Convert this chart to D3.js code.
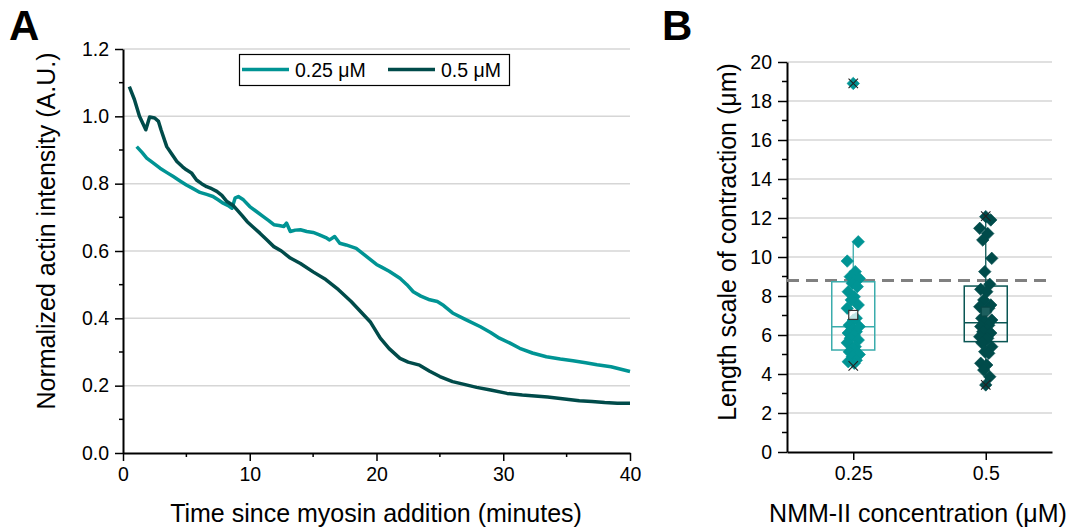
<!DOCTYPE html>
<html>
<head>
<meta charset="utf-8">
<script src="https://cdn.jsdelivr.net/npm/d3@7"></script>
<style>
  html, body { margin: 0; padding: 0; background: #fff; }
  svg { display: block; font-family: "Liberation Sans", Arial, sans-serif; }
</style>
</head>
<body>
<svg id="fig" width="1068" height="530"></svg>
<script>
// ---- Panel A: actin intensity time courses ----
const timeLow = [1.08, 1.5, 1.87, 2.4, 2.92, 3.5, 3.97, 4.5, 5.0, 5.5, 6.07, 6.6, 7.1, 7.5, 7.9, 8.3, 8.6, 8.84, 9.1, 9.5, 10.0, 10.5, 11.07, 11.5, 11.9, 12.3, 12.7, 12.9, 13.2, 13.6, 14.0, 14.5, 15.0, 15.5, 16.0, 16.3, 16.7, 17.1, 17.6, 18.4, 19.0, 19.5, 20.0, 20.4, 21.0, 21.85, 22.4, 22.9, 23.5, 24.2, 24.8, 25.3, 26.0, 27.0, 28.2, 29.0, 29.7, 30.5, 31.3, 32.3, 33.4, 34.5, 35.5, 36.5, 37.4, 38.5, 40.0];
const intensityLow = [0.910, 0.893, 0.876, 0.861, 0.846, 0.832, 0.821, 0.808, 0.796, 0.786, 0.774, 0.768, 0.762, 0.752, 0.742, 0.735, 0.727, 0.757, 0.762, 0.752, 0.732, 0.718, 0.702, 0.690, 0.678, 0.676, 0.673, 0.683, 0.658, 0.662, 0.663, 0.658, 0.655, 0.648, 0.640, 0.633, 0.643, 0.623, 0.618, 0.608, 0.590, 0.575, 0.560, 0.552, 0.540, 0.519, 0.500, 0.479, 0.466, 0.455, 0.450, 0.438, 0.416, 0.397, 0.375, 0.358, 0.341, 0.327, 0.311, 0.297, 0.286, 0.279, 0.274, 0.268, 0.262, 0.256, 0.242];

const timeHigh = [0.5, 0.9, 1.3, 1.8, 2.1, 2.5, 2.8, 3.0, 3.45, 3.9, 4.25, 4.7, 5.0, 5.4, 5.8, 6.2, 6.6, 7.0, 7.4, 7.8, 8.2, 8.7, 9.0, 9.4, 9.8, 10.3, 10.8, 11.3, 11.9, 12.5, 13.2, 14.0, 15.0, 16.0, 17.0, 18.0, 18.5, 19.0, 19.5, 20.3, 21.0, 21.85, 22.5, 23.4, 24.2, 25.0, 26.0, 27.0, 27.9, 29.0, 30.3, 31.5, 32.5, 33.5, 34.5, 36.0, 37.0, 38.0, 39.0, 40.0];
const intensityHigh = [1.088, 1.050, 1.000, 0.960, 0.998, 0.995, 0.985, 0.960, 0.910, 0.885, 0.866, 0.850, 0.841, 0.832, 0.811, 0.800, 0.791, 0.785, 0.777, 0.765, 0.747, 0.735, 0.722, 0.705, 0.687, 0.670, 0.653, 0.635, 0.613, 0.600, 0.579, 0.563, 0.538, 0.515, 0.485, 0.450, 0.430, 0.410, 0.390, 0.341, 0.310, 0.281, 0.270, 0.261, 0.243, 0.227, 0.212, 0.203, 0.195, 0.187, 0.177, 0.172, 0.169, 0.166, 0.162, 0.155, 0.153, 0.150, 0.148, 0.148];

const seriesLabels = ["0.25 \u03BCM", "0.5 \u03BCM"];
const timeTicks = [0, 10, 20, 30, 40];
const intensityTicks = [0, 0.2, 0.4, 0.6, 0.8, 1.0, 1.2];

// ---- Panel B: contraction length scales ----
const concentrations = ["0.25", "0.5"];
const lengthsLow = [18.9, 10.78, 9.79, 9.25, 8.99, 8.9, 8.65, 8.48, 8.22, 7.96, 7.8, 7.54, 7.37, 6.86, 6.77, 6.5, 6.43, 6.3, 6.17, 6.1, 6.0, 5.83, 5.74, 5.6, 5.4, 5.3, 5.14, 5.0, 4.89, 4.7, 4.63, 4.55];
const lengthsHigh = [12.07, 11.9, 11.47, 11.2, 10.87, 9.93, 9.25, 8.6, 8.34, 8.22, 7.8, 7.54, 7.45, 7.37, 7.19, 6.86, 6.77, 6.68, 6.5, 6.43, 6.26, 6.17, 6.1, 5.91, 5.83, 5.74, 5.6, 5.4, 5.14, 5.06, 4.55, 4.46, 4.2, 3.86, 3.44];
const boxQ1 = [5.23, 5.66];
const boxMedian = [6.42, 6.63];
const boxQ3 = [8.73, 8.51];
const whiskerLow = [4.55, 3.44];
const whiskerHigh = [10.78, 12.07];
const groupMean = [7.03, 7.2];
const groupMin = [4.42, 3.44];
const groupMax = [18.9, 12.1];
const referenceLength = 8.8;
const lengthTicks = d3.range(0, 21, 2);

// ---- styling ----
const colLow = "#009494";
const colHigh = "#004b4a";
const boxColLow = "#3aacac";
const boxColHigh = "#0a5654";
const gridCol = "#d6d6d6";
const tickFont = 19.5;
const titleFont = 25;

const svg = d3.select("#fig");

// ================= Panel A =================
const xA = d3.scaleLinear().domain([0, 40]).range([123, 630]);
const yA = d3.scaleLinear().domain([0, 1.2]).range([453, 49]);

const gA = svg.append("g");

// horizontal grid
gA.append("g").selectAll("line")
  .data(intensityTicks.filter(d => d > 0))
  .join("line")
  .attr("x1", xA(0)).attr("x2", xA(40))
  .attr("y1", d => yA(d)).attr("y2", d => yA(d))
  .attr("stroke", gridCol).attr("stroke-width", 1.5);

function styleAxis(g) {
  g.select(".domain").attr("stroke", "#000").attr("stroke-width", 2);
  g.selectAll(".tick line").attr("stroke", "#000").attr("stroke-width", 1.5);
  g.selectAll(".tick text").attr("font-size", tickFont).attr("fill", "#000")
    .attr("font-family", "Liberation Sans, Arial, sans-serif");
}

// minor ticks
gA.append("g").selectAll("line")
  .data(d3.range(0.1, 1.2, 0.2))
  .join("line")
  .attr("x1", xA(0) - 4).attr("x2", xA(0))
  .attr("y1", d => yA(d)).attr("y2", d => yA(d))
  .attr("stroke", "#000").attr("stroke-width", 1.5);
gA.append("g").selectAll("line")
  .data([5, 15, 25, 35])
  .join("line")
  .attr("x1", d => xA(d)).attr("x2", d => xA(d))
  .attr("y1", yA(0)).attr("y2", yA(0) + 4)
  .attr("stroke", "#000").attr("stroke-width", 1.5);

gA.append("g")
  .attr("transform", `translate(0,${yA(0)})`)
  .call(d3.axisBottom(xA).tickValues(timeTicks).tickSize(8).tickPadding(6).tickSizeOuter(0))
  .call(styleAxis);

gA.append("g")
  .attr("transform", `translate(${xA(0)},0)`)
  .call(d3.axisLeft(yA).tickValues(intensityTicks).tickFormat(d3.format(".1f")).tickSize(8).tickPadding(6).tickSizeOuter(0))
  .call(styleAxis);

// traces
const lineGen = d3.line().x(d => xA(d[0])).y(d => yA(d[1])).curve(d3.curveLinear);
const traces = [
  { t: timeLow, v: intensityLow, c: colLow },
  { t: timeHigh, v: intensityHigh, c: colHigh }
];
traces.forEach(s => {
  gA.append("path")
    .datum(d3.zip(s.t, s.v))
    .attr("d", lineGen)
    .attr("fill", "none")
    .attr("stroke", s.c)
    .attr("stroke-width", 3.5)
    .attr("stroke-linejoin", "round");
});

// legend
const leg = gA.append("g");
leg.append("rect").attr("x", 239.5).attr("y", 54.5).attr("width", 270).attr("height", 31)
  .attr("fill", "#fff").attr("stroke", "#000").attr("stroke-width", 1.2);
const legX = [242, 388];
seriesLabels.forEach((lab, i) => {
  leg.append("line").attr("x1", legX[i]).attr("x2", legX[i] + 47)
    .attr("y1", 69.5).attr("y2", 69.5)
    .attr("stroke", traces[i].c).attr("stroke-width", 3.5);
  leg.append("text").attr("x", legX[i] + 53).attr("y", 76.5)
    .attr("font-size", tickFont).text(lab);
});

// titles
gA.append("text").attr("x", 376).attr("y", 522).attr("text-anchor", "middle")
  .attr("font-size", titleFont).text("Time since myosin addition (minutes)");
gA.append("text").attr("transform", "translate(55,231) rotate(-90)").attr("text-anchor", "middle")
  .attr("font-size", titleFont).text("Normalized actin intensity (A.U.)");
svg.append("text").attr("x", 9).attr("y", 40).attr("font-size", 42).attr("font-weight", "bold").text("A");

// ================= Panel B =================
const xB = d3.scalePoint().domain(concentrations).range([787, 1052]).padding(0.5);
const yB = d3.scaleLinear().domain([0, 20]).range([452, 62]);
const gB = svg.append("g");

gB.append("g").selectAll("line")
  .data(lengthTicks.filter(d => d > 0))
  .join("line")
  .attr("x1", 787).attr("x2", 1052)
  .attr("y1", d => yB(d)).attr("y2", d => yB(d))
  .attr("stroke", gridCol).attr("stroke-width", 1.5);

// minor ticks on length axis
gB.append("g").selectAll("line")
  .data(d3.range(1, 20, 2))
  .join("line")
  .attr("x1", 787 - 5).attr("x2", 787)
  .attr("y1", d => yB(d)).attr("y2", d => yB(d))
  .attr("stroke", "#000").attr("stroke-width", 1.5);

gB.append("g")
  .attr("transform", "translate(0,452)")
  .call(d3.axisBottom(xB).tickSize(8).tickPadding(6).tickSizeOuter(0))
  .call(styleAxis);
gB.append("g")
  .attr("transform", "translate(787,0)")
  .call(d3.axisLeft(yB).tickValues(lengthTicks).tickSize(9).tickPadding(6).tickSizeOuter(0))
  .call(styleAxis);

// reference level
gB.append("line")
  .attr("x1", 787).attr("x2", 1052)
  .attr("y1", yB(referenceLength)).attr("y2", yB(referenceLength))
  .attr("stroke", "#808080").attr("stroke-width", 3).attr("stroke-dasharray", "12,7");

const boxW = 43;
const groups = concentrations.map((c, i) => ({
  c, i,
  vals: i === 0 ? lengthsLow : lengthsHigh,
  fill: i === 0 ? colLow : colHigh,
  stroke: i === 0 ? boxColLow : boxColHigh
}));

groups.forEach(g => {
  const cx = xB(g.c);
  const bg = gB.append("g");
  // whiskers
  bg.append("line").attr("x1", cx).attr("x2", cx)
    .attr("y1", yB(boxQ3[g.i])).attr("y2", yB(whiskerHigh[g.i]))
    .attr("stroke", g.stroke).attr("stroke-width", 1.3);
  bg.append("line").attr("x1", cx).attr("x2", cx)
    .attr("y1", yB(boxQ1[g.i])).attr("y2", yB(whiskerLow[g.i]))
    .attr("stroke", g.stroke).attr("stroke-width", 1.3);
  // box
  bg.append("rect")
    .attr("x", cx - boxW / 2).attr("width", boxW)
    .attr("y", yB(boxQ3[g.i])).attr("height", yB(boxQ1[g.i]) - yB(boxQ3[g.i]))
    .attr("fill", "none").attr("stroke", g.stroke).attr("stroke-width", 1.5);
  bg.append("line")
    .attr("x1", cx - boxW / 2).attr("x2", cx + boxW / 2)
    .attr("y1", yB(boxMedian[g.i])).attr("y2", yB(boxMedian[g.i]))
    .attr("stroke", g.stroke).attr("stroke-width", 1.5);
});

// jittered data points (fixed offset pattern, px)
const jitter = [0, 5, -6, 2, -3, 6, -1, 4, -5, 1, -2, 5, -6, 3, 0, -4, 6, -1, 3, -5, 1, -3, 5, -6, 2, 0, -4, 6, -1, 3, -5, 1, -2, 4, 0];
const diamond = d3.symbol().type(d3.symbolSquare).size(78);
groups.forEach(g => {
  const cx = xB(g.c);
  gB.append("g").selectAll("path")
    .data(g.vals)
    .join("path")
    .attr("d", diamond)
    .attr("transform", (d, k) => `translate(${cx + jitter[k % jitter.length]},${yB(d)}) rotate(45)`)
    .attr("fill", g.fill)
    .attr("stroke", g.fill).attr("stroke-width", 0.6);
});

// group means (open squares)
groups.forEach(g => {
  const cx = xB(g.c);
  gB.append("rect")
    .attr("x", cx - 4.5).attr("y", yB(groupMean[g.i]) - 4.5)
    .attr("width", 9).attr("height", 9)
    .attr("fill", "rgba(255,255,255,0.75)").attr("stroke", "#333").attr("stroke-width", 1.2)
    .attr("opacity", g.i === 0 ? 1 : 0.15);
});

// min / max markers
const cross = d3.symbol().type(d3.symbolX).size(60);
groups.forEach(g => {
  const cx = xB(g.c);
  gB.append("g").selectAll("path")
    .data([groupMin[g.i], groupMax[g.i]])
    .join("path")
    .attr("d", cross)
    .attr("transform", d => `translate(${cx},${yB(d)})`)
    .attr("fill", "none")
    .attr("stroke", "#222").attr("stroke-width", 1.1);
});

gB.append("text").attr("x", 918).attr("y", 522).attr("text-anchor", "middle")
  .attr("font-size", titleFont).text("NMM-II concentration (\u03BCM)");
gB.append("text").attr("transform", "translate(736,242) rotate(-90)").attr("text-anchor", "middle")
  .attr("font-size", titleFont).text("Length scale of contraction (\u03BCm)");
svg.append("text").attr("x", 662).attr("y", 40).attr("font-size", 42).attr("font-weight", "bold").text("B");
</script>
</body>
</html>
